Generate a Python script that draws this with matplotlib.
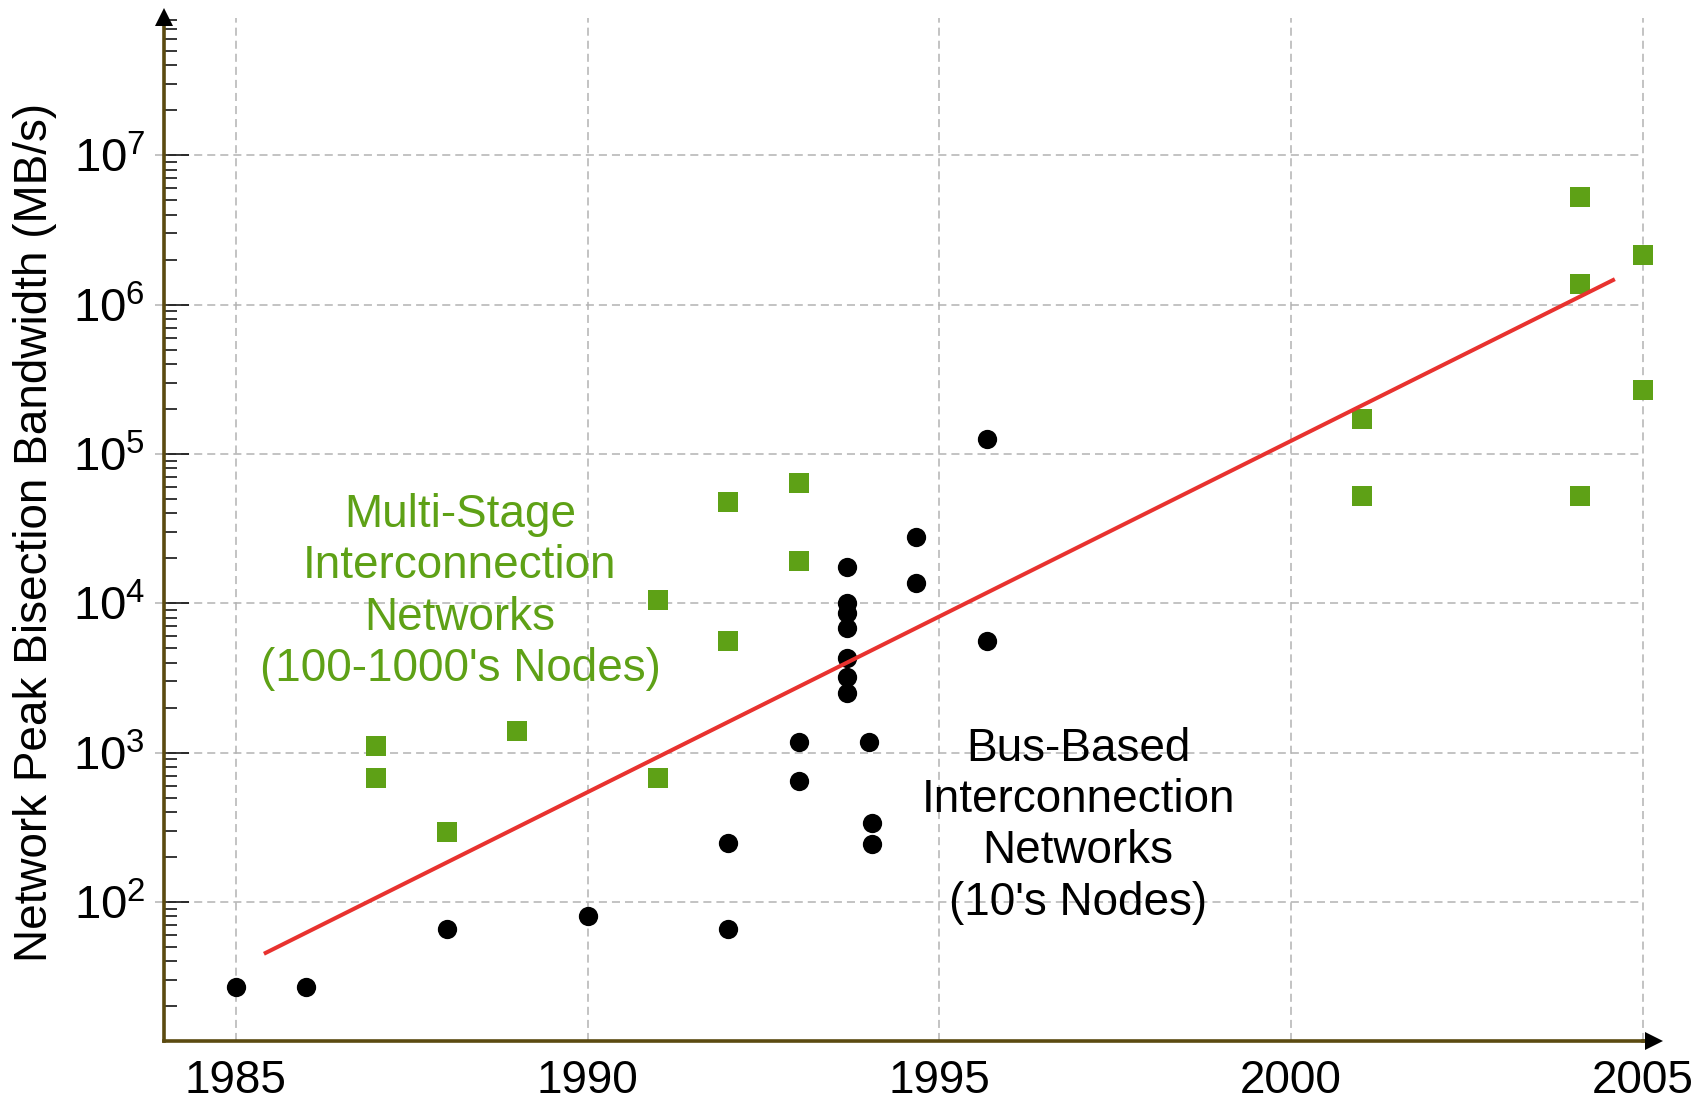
import numpy as np
import matplotlib
matplotlib.use("Agg")
import matplotlib.pyplot as plt
from matplotlib.ticker import LogLocator, LogFormatterSciNotation, NullFormatter, FixedLocator

plt.rcParams['font.family'] = ['Liberation Sans', 'DejaVu Sans']
plt.rcParams['mathtext.fontset'] = 'custom'
plt.rcParams['mathtext.rm'] = 'Liberation Sans'
plt.rcParams['mathtext.it'] = 'Liberation Sans:italic'
plt.rcParams['mathtext.bf'] = 'Liberation Sans:bold'
plt.rcParams['mathtext.default'] = 'regular'
plt.rcParams['lines.scale_dashes'] = False

# ---------------- data ----------------
bus_years = [1985, 1986, 1988, 1990, 1992, 1992, 1993, 1993,
             1993.68, 1993.68, 1993.68, 1993.68, 1993.68, 1993.68, 1993.68,
             1994.0, 1994.04, 1994.04, 1994.67, 1994.67, 1995.67, 1995.67]
bus_bw = [27, 27, 66, 80, 66, 250, 1180, 650,
          17600, 10000, 8600, 6800, 4300, 3200, 2500,
          1180, 337, 245, 28000, 13700, 126000, 5600]

msin_years = [1987, 1987, 1988, 1989, 1991, 1991, 1992, 1992, 1993, 1993,
              2001, 2001, 2004.1, 2004.1, 2004.1, 2005, 2005]
msin_bw = [1100, 680, 296, 1400, 10500, 680, 48000, 5600, 64000, 19300,
           171000, 52000, 5.26e6, 1.37e6, 52000, 2.15e6, 268000]

trend_years = [1985.4, 2004.6]
trend_bw = [45, 1.48e6]

x_ticks = [1985, 1990, 1995, 2000, 2005]
x_labels = ['1985', '1990', '1995', '2000', '2005']
y_major = [1e2, 1e3, 1e4, 1e5, 1e6, 1e7]

ylabel = 'Network Peak Bisection Bandwidth (MB/s)'
msin_text = "Multi-Stage\nInterconnection\nNetworks\n(100-1000's Nodes)"
bus_text = "Bus-Based\nInterconnection\nNetworks\n(10's Nodes)"

# ---------------- style ----------------
GREEN = '#5ea116'
RED = '#e8322f'
OLIVE = '#5b4a10'
GRID = '#b3b3b3'
DASH = (0, (5.8, 3.6))

fig = plt.figure(figsize=(16.94, 11.03), dpi=100)
ax = fig.add_axes([0.09681, 0.05594, 0.96989 - 0.09681, 0.98368 - 0.05594])
ax.set_yscale('log')
xmin, xmax = 1983.98, 2005.0
ax.set_xlim(xmin, xmax)
ax.set_ylim(10 ** 1.0672, 10 ** 7.919)

# grid lines
ax.hlines(y_major, xmin - 0.128, xmax, colors=GRID, linewidth=1.1,
          linestyles=[DASH], clip_on=False, zorder=1)
ax.vlines(x_ticks, 10 ** 1.0672, 10 ** 7.919, colors=GRID, linewidth=1.1,
          linestyles=[DASH], clip_on=False, zorder=1)

# data
ax.plot(bus_years, bus_bw, 'o', color='black', ms=13.9, mew=0, zorder=3, clip_on=False)
ax.plot(msin_years, msin_bw, 's', color=GREEN, ms=14.4, mew=0, zorder=3, clip_on=False)
ax.plot(trend_years, trend_bw, '-', color=RED, lw=2.9, zorder=4, solid_capstyle='butt')

# spines
for s in ['top', 'right']:
    ax.spines[s].set_visible(False)
for s in ['left', 'bottom']:
    ax.spines[s].set_color(OLIVE)
    ax.spines[s].set_linewidth(2.6)
    ax.spines[s].set_zorder(5)

# arrows
ax.plot([1, 1.0072], [0, 0], color=OLIVE, lw=2.6, transform=ax.transAxes, clip_on=False, zorder=5)
ax.plot([1.0072], [0], marker='>', ms=13, color='black', mew=0,
        transform=ax.transAxes, clip_on=False, zorder=6)
ax.plot([0], [1.001], marker='^', ms=13, color='black', mew=0,
        transform=ax.transAxes, clip_on=False, zorder=6)

# ticks
ax.xaxis.set_major_locator(FixedLocator(x_ticks))
ax.set_xticklabels(x_labels)
ax.tick_params(axis='x', which='both', length=0, pad=13, labelsize=33)
ax.yaxis.set_major_locator(FixedLocator(y_major))
ax.yaxis.set_major_formatter(LogFormatterSciNotation())
ax.yaxis.set_minor_locator(LogLocator(base=10, subs=np.arange(2, 10), numticks=20))
ax.yaxis.set_minor_formatter(NullFormatter())
ax.tick_params(axis='y', which='major', direction='in', length=18, width=1.1,
               color='black', pad=13.5, labelsize=34)
ax.tick_params(axis='y', which='minor', direction='in', length=9.4, width=1.1,
               color='black')

# labels
fig.text(35 / 1694, 0.5177, ylabel, rotation=90, ha='center', va='center', fontsize=33)
ax.text(0.2001, 0.5358, msin_text, transform=ax.transAxes, ha='center', va='top',
        multialignment='center', fontsize=33, color=GREEN, linespacing=1.22, zorder=2)
ax.text(0.618, 0.3076, bus_text, transform=ax.transAxes, ha='center', va='top',
        multialignment='center', fontsize=33, color='black', linespacing=1.22, zorder=2)

fig.savefig('out.png', dpi=100)
